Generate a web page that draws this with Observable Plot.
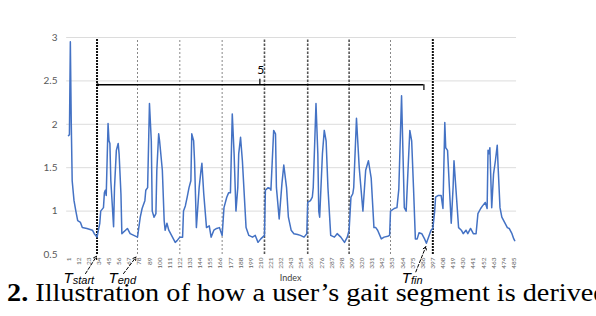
<!DOCTYPE html>
<html><head><meta charset="utf-8">
<script src="https://cdn.jsdelivr.net/npm/d3@7"></script>
<script src="https://cdn.jsdelivr.net/npm/@observablehq/plot@0.6"></script>
<style>
html,body{margin:0;padding:0;background:#fff;width:596px;height:316px;overflow:hidden;position:relative}
#chart{position:absolute;left:0;top:0}
#cap{position:absolute;left:7px;top:279px;font-family:"Liberation Serif",serif;font-size:25px;white-space:nowrap;color:#000;transform:scaleX(1.13);transform-origin:0 0}
#top{position:absolute;left:2px;top:-20px;font-family:"Liberation Serif",serif;font-size:22px;white-space:nowrap;color:#000}
</style></head><body>
<div id="top">rved at.</div>
<div id="chart"></div>
<div id="cap"><b>2.</b> Illustration of how a user’s gait segment is derived</div>
<script>
// gait signal: sample index and value
const idx = [1,2,3,4,5,7,9,11,14,16,21,27,29,32,35,36,39,40,41,42,44,45,46,47,50,51,53,55,56,58,59,63,65,68,72,76,79,81,84,85,87,89,91,92,94,96,97,99,100,103,105,106,108,110,114,117,119,122,125,126,128,130,132,134,135,137,138,140,143,145,146,148,151,154,156,159,162,165,168,170,173,175,177,179,181,183,185,186,188,190,194,197,201,204,207,210,214,215,218,220,221,224,226,227,230,233,235,238,240,243,246,250,253,257,260,261,264,266,267,270,272,273,274,277,279,281,283,286,290,293,297,301,304,306,308,310,311,314,317,321,324,327,330,333,335,337,341,344,348,350,351,355,358,360,363,366,368,370,372,374,376,378,380,382,385,388,390,393,395,397,399,400,403,406,408,410,411,413,415,417,419,420,422,425,428,430,433,435,438,441,444,446,449,451,454,456,457,458,459,461,463,465,467,468,470,472,475,478,480,483,485,486];
const val = [1.87,1.88,2.95,2.02,1.35,1.12,1.00,0.89,0.87,0.81,0.80,0.78,0.74,0.70,0.86,1.00,1.04,1.21,1.24,1.18,2.01,1.81,1.78,1.35,0.82,1.27,1.70,1.78,1.66,1.20,0.74,0.78,0.80,0.74,0.72,0.70,0.93,1.03,1.12,1.24,1.27,2.24,1.81,1.00,0.93,0.97,1.47,1.89,1.81,1.47,0.89,0.78,0.86,0.78,0.70,0.64,0.66,0.70,0.70,1.00,1.06,1.16,1.27,1.35,1.89,1.81,1.58,0.81,1.27,1.47,1.55,1.20,0.81,0.83,0.70,0.78,0.80,0.81,0.72,1.04,1.16,1.21,1.21,2.12,1.66,1.00,1.27,1.66,1.85,1.58,0.81,0.72,0.70,0.72,0.64,0.68,0.72,1.24,1.27,1.26,1.24,1.93,1.89,1.27,0.91,1.32,1.53,1.27,0.93,0.78,0.74,0.73,0.72,0.70,0.74,1.10,1.12,1.16,1.27,2.24,1.66,1.00,0.93,1.66,1.93,1.81,1.27,0.72,0.70,0.74,0.70,0.64,0.70,0.78,1.16,1.20,1.27,2.07,1.50,1.00,1.47,1.58,1.38,0.81,0.81,0.78,0.68,0.70,0.71,0.72,1.00,1.03,1.04,1.25,2.33,1.04,1.00,1.47,1.93,1.81,1.27,0.68,0.68,0.75,0.74,0.68,0.63,0.72,0.78,0.80,1.00,1.16,1.18,1.18,1.03,2.02,1.73,1.70,1.27,0.86,1.27,1.58,1.27,0.81,0.78,0.74,0.78,0.74,0.80,0.74,0.74,0.97,1.03,1.06,1.10,1.03,1.70,1.66,1.73,1.04,1.43,1.58,1.76,1.50,1.04,0.93,0.87,0.81,0.80,0.74,0.68,0.66];

const xTicks = [1,12,23,34,45,56,67,78,89,100,111,122,133,144,155,166,177,188,199,210,221,232,243,254,265,276,287,298,309,320,331,342,353,364,375,386,397,408,419,430,441,452,463,474,485];
const yTicks = [0.5,1,1.5,2,2.5,3];
const gridVals = [1,1.5,2,2.5,3];

// segment boundary markers (sample index)
const boundsHeavy = [32, 397];
const boundsMid = [214, 261, 306];
const boundsLight = [76, 122, 168, 351];

// bracket spanning the segment, labelled "5"
const bracketStart = 32.6, bracketEnd = 387.3, bracketLevel = 2.455, bracketMid = 209;
const bracketLabel = "5";

// annotation labels (T + subscript) and arrows
const labels = [
  {t: "T", sub: "start", x: -4.4, y: 0.166},
  {t: "T", sub: "end", x: 44.5, y: 0.166},
  {t: "T", sub: "fin", x: 363.3, y: 0.166}
];
const arrows = [
  {x1: 19.5, y1: 0.28, x2: 31.5, y2: 0.48},
  {x1: 60.8, y1: 0.28, x2: 74.4, y2: 0.47},
  {x1: 378.5, y1: 0.30, x2: 389.4, y2: 0.59}
];

const chart = Plot.plot({
  width: 596, height: 316,
  marginLeft: 68, marginRight: 82.7, marginTop: 37, marginBottom: 62,
  x: {domain: [1, 485]},
  y: {domain: [0.5, 3]},
  style: {fontFamily: "Lato, 'Liberation Sans', sans-serif", background: "#fff", overflow: "visible"},
  marks: [
    Plot.ruleY(gridVals, {x1: -1, x2: 488, stroke: "#dcdcdc", strokeWidth: 1}),
    Plot.axisY({ticks: yTicks, tickSize: 0, tickPadding: 11, fontSize: 10, fill: "#595959", label: null, tickFormat: d => String(d)}),
    Plot.axisX({ticks: xTicks, tickRotate: -90, tickSize: 0, tickPadding: 3, fontSize: 6.5, fill: "#666", label: null, tickFormat: d => String(d)}),
    Plot.ruleX(boundsLight, {y1: 0.5, y2: 2.98, stroke: "#888", strokeWidth: 1, strokeDasharray: "2,2"}),
    Plot.ruleX(boundsMid, {y1: 0.5, y2: 2.98, stroke: "#555", strokeWidth: 1.6, strokeDasharray: "2.5,1.5"}),
    Plot.ruleX(boundsHeavy, {y1: 0.5, y2: 2.98, stroke: "#111", strokeWidth: 2, strokeDasharray: "2,1"}),
    Plot.line(idx.map((d, i) => ({i: d, v: val[i]})), {x: "i", y: "v", stroke: "#4472C4", strokeWidth: 1.5}),
    Plot.ruleY([bracketLevel], {x1: bracketStart, x2: bracketEnd, stroke: "#000", strokeWidth: 1.5}),
    Plot.ruleX([bracketEnd], {y1: bracketLevel, y2: 2.39, stroke: "#000", strokeWidth: 1.2}),
    Plot.ruleX([bracketMid], {y1: bracketLevel, y2: 2.52, stroke: "#000", strokeWidth: 1.2}),
    Plot.dot([bracketStart], {x: d => d, y: bracketLevel, r: 1.5, fill: "#000"}),
    Plot.text([bracketLabel], {x: bracketMid + 1, y: 2.62, text: d => d, fontSize: 12, fill: "#000"}),
    Plot.text(["Index"], {x: 242.5, y: 0.224, text: d => d, fontSize: 9, fill: "#404040"}),
    Plot.arrow(arrows, {x1: "x1", y1: "y1", x2: "x2", y2: "y2", stroke: "#000", strokeWidth: 1, strokeDasharray: "3,2", headLength: 5}),
    Plot.text(labels, {x: "x", y: "y", text: d => d.t + "|" + d.sub, textAnchor: "start", lineAnchor: "bottom", fontSize: 15, fontStyle: "italic", fill: "#000", fontFamily: "'Liberation Sans', sans-serif"})
  ]
});
// turn "T|sub" labels into T with a smaller subscript
d3.select(chart).selectAll("text").each(function() {
  const s = this.textContent;
  if (s.indexOf("|") < 0 || this.children.length) return;
  const [a, b] = s.split("|");
  const el = d3.select(this);
  el.text(null);
  el.append("tspan").text(a);
  el.append("tspan").attr("font-size", 11).attr("dy", 1).text(b);
});
document.getElementById("chart").appendChild(chart);
</script>
</body></html>
